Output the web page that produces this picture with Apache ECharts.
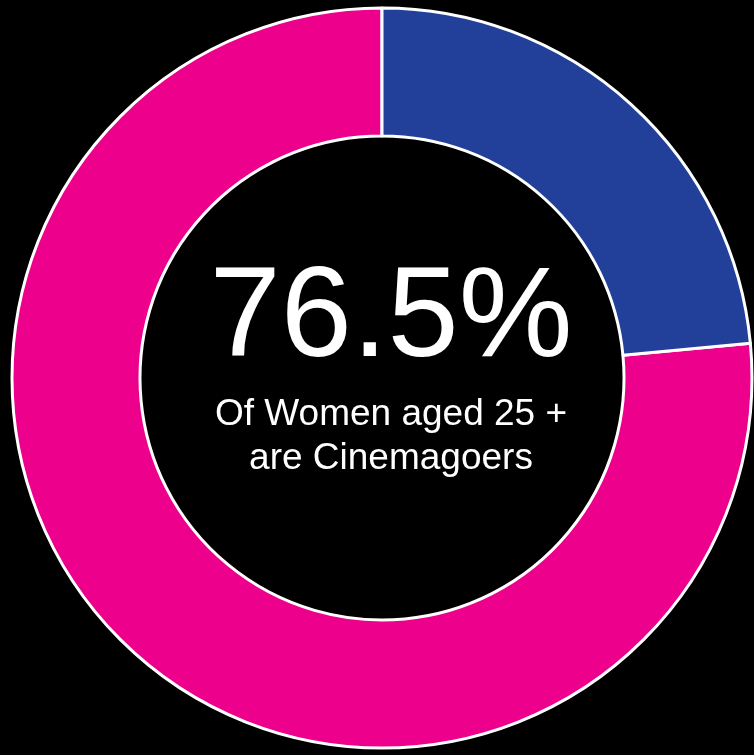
<!DOCTYPE html>
<html>
<head>
<meta charset="utf-8">
<script src="https://cdn.jsdelivr.net/npm/echarts@6/dist/echarts.min.js"></script>
<style>
  html, body { margin:0; padding:0; background:#000; }
  #chart { width:754px; height:755px; }
</style>
</head>
<body>
<div id="chart"></div>
<script>
// data
var labels = ["Cinemagoers", "Non-cinemagoers"]
var values = [76.5, 23.5]
var colors = ["#EC008C", "#22409A"]
var headline = "76.5%"
var subLines = ["Of Women aged 25 +", "are Cinemagoers"]

var chart = echarts.init(document.getElementById("chart"))
var pieData = []
for (var i = 0; i < labels.length; i++) {
  pieData.push({ name: labels[i], value: values[i], itemStyle: { color: colors[i] } })
}

chart.setOption({
  backgroundColor: "#000",
  animation: false,
  series: [{
    type: "pie",
    center: [382, 378],
    radius: [242, 370],
    startAngle: 90,
    clockwise: false, // pink runs counter-clockwise from 12 o'clock, blue sits on the right
    label: { show: false },
    labelLine: { show: false },
    itemStyle: { borderColor: "#fff", borderWidth: 3 },
    data: pieData
  }],
  graphic: [
    { type: "text", x: 391, y: 321, style: { text: headline, fill: "#fff", font: "128px 'Liberation Sans', Arial, sans-serif", textAlign: "center", textVerticalAlign: "middle" } },
    { type: "text", x: 391, y: 415, style: { text: subLines[0], fill: "#fff", font: "37px 'Liberation Sans', Arial, sans-serif", textAlign: "center", textVerticalAlign: "middle" } },
    { type: "text", x: 391, y: 459, style: { text: subLines[1], fill: "#fff", font: "37px 'Liberation Sans', Arial, sans-serif", textAlign: "center", textVerticalAlign: "middle" } }
  ]
})
</script>
</body>
</html>
